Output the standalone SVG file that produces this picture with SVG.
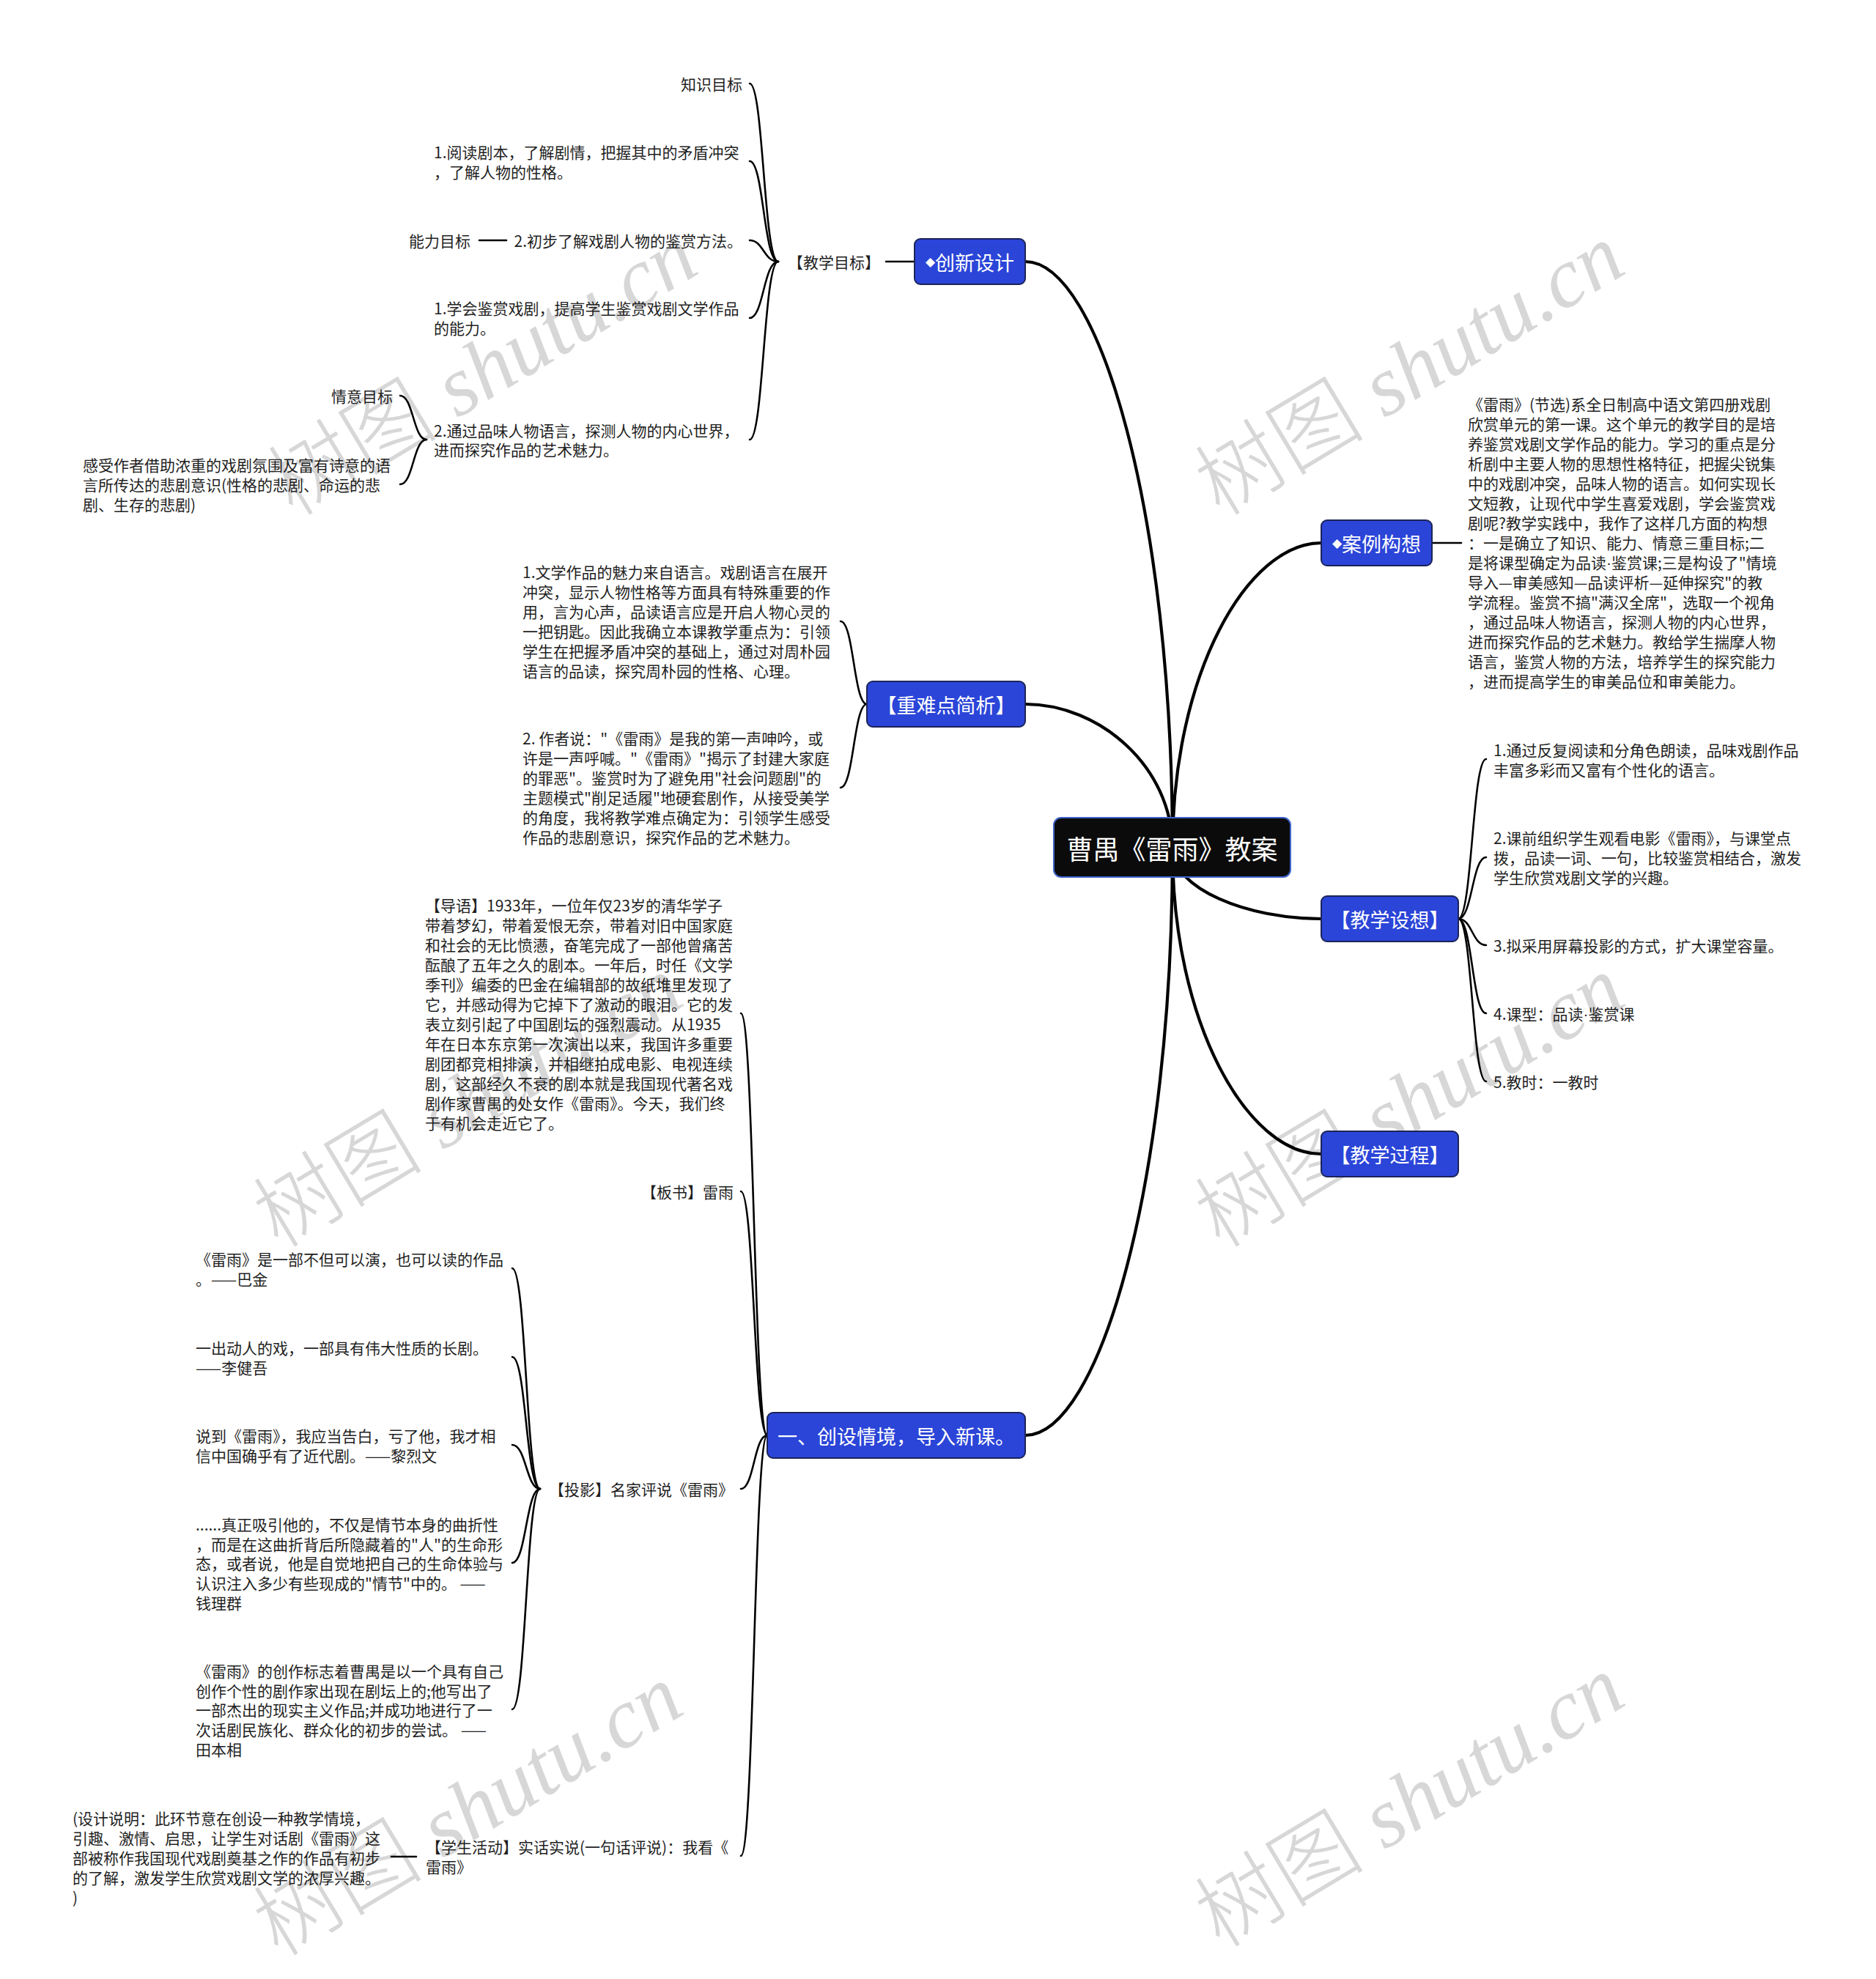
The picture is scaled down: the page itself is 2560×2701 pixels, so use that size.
<svg xmlns="http://www.w3.org/2000/svg" width="2560" height="2701" viewBox="0 0 2560 2701">
<style>
text { font-family: "Noto Sans CJK SC", "Noto Sans", sans-serif; }
.leaf { font-size: 21px; fill: #1f1f1f; dominant-baseline: central; }
.main { font-size: 27px; fill: #ffffff; dominant-baseline: central; text-anchor: middle; }
.root { font-size: 36px; fill: #ffffff; dominant-baseline: central; text-anchor: middle; }
.box { fill: #2b45d8; stroke: #1c2458; stroke-width: 2; }
.rootbox { fill: #0b0b0b; stroke: #3f63c9; stroke-width: 2; }
.conn path { fill: none; stroke: #000; stroke-width: 2.6; stroke-linecap: round; }
.conn path.m { stroke-width: 4.2; }
.wm { font-family: "Liberation Serif", "Noto Sans CJK SC", serif; font-size: 116px; font-weight: 300; fill: #d7d7d7; }
.end { text-anchor: end; }
.dia { font-family: "DejaVu Sans", sans-serif; font-size: 17px; }
.dot { font-family: "Liberation Sans", sans-serif; }
</style>

<g id="watermarks">
<text class="wm" transform="translate(400,706) rotate(-31)">树图 <tspan font-style="italic">shutu.cn</tspan></text>
<text class="wm" transform="translate(1665,706) rotate(-31)">树图 <tspan font-style="italic">shutu.cn</tspan></text>
<text class="wm" transform="translate(380,1705) rotate(-31)">树图 <tspan font-style="italic">shutu.cn</tspan></text>
<text class="wm" transform="translate(1665,1705) rotate(-31)">树图 <tspan font-style="italic">shutu.cn</tspan></text>
<text class="wm" transform="translate(380,2672) rotate(-31)">树图 <tspan font-style="italic">shutu.cn</tspan></text>
<text class="wm" transform="translate(1665,2660) rotate(-31)">树图 <tspan font-style="italic">shutu.cn</tspan></text>
</g>

<g id="connectors" class="conn">
<path class="m" d="M1600 1158 C1600 700 1500 357 1399 357"/>
<path class="m" d="M1600 1158 C1600 1046 1500 961 1399 961"/>
<path class="m" d="M1600 1158 C1600 1615 1500 1959 1399 1959"/>
<path class="m" d="M1600 1158 C1600 920 1702 741 1803 741"/>
<path class="m" d="M1600 1158 C1600 1213 1702 1254 1803 1254"/>
<path class="m" d="M1600 1158 C1600 1396 1702 1575 1803 1575"/>
<path d="M1247 357 H1209"/>
<path d="M1062 357 C1042 357 1042 114 1023 114"/>
<path d="M1062 357 C1042 357 1042 220 1023 220"/>
<path d="M1062 357 C1042 357 1042 328 1023 328"/>
<path d="M1062 357 C1042 357 1042 434 1023 434"/>
<path d="M1062 357 C1042 357 1042 600 1023 600"/>
<path d="M691 328 H654"/>
<path d="M582 600 C564 600 564 540 546 540"/>
<path d="M582 600 C564 600 564 661 546 661"/>
<path d="M1954 741 H1994"/>
<path d="M1183 961 C1165 961 1165 848 1147 848"/>
<path d="M1183 961 C1165 961 1165 1075 1147 1075"/>
<path d="M1990 1254 C2009 1254 2009 1036 2028 1036"/>
<path d="M1990 1254 C2009 1254 2009 1170 2028 1170"/>
<path d="M1990 1254 C2009 1254 2009 1290 2028 1290"/>
<path d="M1990 1254 C2009 1254 2009 1383 2028 1383"/>
<path d="M1990 1254 C2009 1254 2009 1476 2028 1476"/>
<path d="M1047 1959 C1029 1959 1029 1383 1011 1383"/>
<path d="M1047 1959 C1029 1959 1029 1626 1011 1626"/>
<path d="M1047 1959 C1029 1959 1029 2032 1011 2032"/>
<path d="M1047 1959 C1029 1959 1029 2533 1011 2533"/>
<path d="M737 2032 C718 2032 718 1731 699 1731"/>
<path d="M737 2032 C718 2032 718 1852 699 1852"/>
<path d="M737 2032 C718 2032 718 1972 699 1972"/>
<path d="M737 2032 C718 2032 718 2133 699 2133"/>
<path d="M737 2032 C718 2032 718 2333 699 2333"/>
<path d="M568 2534 H534"/>
</g>

<g id="root">
<rect class="rootbox" x="1438" y="1116" width="323" height="81" rx="10"/>
<text class="root" x="1599.5" y="1157">曹禺《雷雨》教案</text>
</g>

<g id="n-chuangxin">
<rect class="box" x="1248" y="326" width="151" height="62" rx="8"/>
<text class="main" x="1323.5" y="357"><tspan class="dia">◆</tspan>创新设计</text>
</g>
<g id="n-anli">
<rect class="box" x="1803" y="710" width="151" height="62" rx="8"/>
<text class="main" x="1878.5" y="741"><tspan class="dia">◆</tspan>案例构想</text>
</g>
<g id="n-zhongnandian">
<rect class="box" x="1183" y="930" width="216" height="62" rx="8"/>
<text class="main" x="1291" y="961">【重难点简析】</text>
</g>
<g id="n-shexiang">
<rect class="box" x="1803" y="1223" width="187" height="62" rx="8"/>
<text class="main" x="1896.5" y="1254">【教学设想】</text>
</g>
<g id="n-guocheng">
<rect class="box" x="1803" y="1544" width="187" height="62" rx="8"/>
<text class="main" x="1896.5" y="1575">【教学过程】</text>
</g>
<g id="n-chuangshe">
<rect class="box" x="1047" y="1928" width="352" height="62" rx="8"/>
<text class="main" x="1223" y="1959">一、创设情境，导入新课。</text>
</g>

<g id="n-mubiao"><text class="leaf" x="1138" y="357" text-anchor="middle">【教学目标】</text></g>
<g id="n-zhishi"><text class="leaf end" x="1013" y="114">知识目标</text></g>
<g id="n-yuedu"><text class="leaf"><tspan x="592" y="207">1.阅读剧本，了解剧情，把握其中的矛盾冲突</tspan><tspan x="592" y="234">，了解人物的性格。</tspan></text></g>
<g id="n-chubu"><text class="leaf end" x="1013" y="328">2.初步了解戏剧人物的鉴赏方法。</text></g>
<g id="n-nengli"><text class="leaf" x="558" y="328">能力目标</text></g>
<g id="n-xuehui"><text class="leaf"><tspan x="592" y="420">1.学会鉴赏戏剧，提高学生鉴赏戏剧文学作品</tspan><tspan x="592" y="447">的能力。</tspan></text></g>
<g id="n-tongguo"><text class="leaf"><tspan x="592" y="587">2.通过品味人物语言，探测人物的内心世界，</tspan><tspan x="592" y="613">进而探究作品的艺术魅力。</tspan></text></g>
<g id="n-qingyi"><text class="leaf end" x="536" y="540">情意目标</text></g>
<g id="n-ganshou"><text class="leaf"><tspan x="113" y="634">感受作者借助浓重的戏剧氛围及富有诗意的语</tspan><tspan x="113" y="661">言所传达的悲剧意识(性格的悲剧、命运的悲</tspan><tspan x="113" y="688">剧、生存的悲剧)</tspan></text></g>

<g id="n-anli-text"><text class="leaf">
<tspan x="2003" y="551">《雷雨》(节选)系全日制高中语文第四册戏剧</tspan>
<tspan x="2003" y="578">欣赏单元的第一课。这个单元的教学目的是培</tspan>
<tspan x="2003" y="605">养鉴赏戏剧文学作品的能力。学习的重点是分</tspan>
<tspan x="2003" y="632">析剧中主要人物的思想性格特征，把握尖锐集</tspan>
<tspan x="2003" y="659">中的戏剧冲突，品味人物的语言。如何实现长</tspan>
<tspan x="2003" y="686">文短教，让现代中学生喜爱戏剧，学会鉴赏戏</tspan>
<tspan x="2003" y="713">剧呢?教学实践中，我作了这样几方面的构想</tspan>
<tspan x="2003" y="740">：一是确立了知识、能力、情意三重目标;二</tspan>
<tspan x="2003" y="767">是将课型确定为品读<tspan class="dot">·</tspan>鉴赏课;三是构设了"情境</tspan>
<tspan x="2003" y="794">导入—审美感知—品读评析—延伸探究"的教</tspan>
<tspan x="2003" y="821">学流程。鉴赏不搞"满汉全席"，选取一个视角</tspan>
<tspan x="2003" y="848">，通过品味人物语言，探测人物的内心世界，</tspan>
<tspan x="2003" y="875">进而探究作品的艺术魅力。教给学生揣摩人物</tspan>
<tspan x="2003" y="902">语言，鉴赏人物的方法，培养学生的探究能力</tspan>
<tspan x="2003" y="929">，进而提高学生的审美品位和审美能力。</tspan>
</text></g>

<g id="n-zhongdian"><text class="leaf">
<tspan x="713" y="780">1.文学作品的魅力来自语言。戏剧语言在展开</tspan>
<tspan x="713" y="807">冲突，显示人物性格等方面具有特殊重要的作</tspan>
<tspan x="713" y="834">用，言为心声，品读语言应是开启人物心灵的</tspan>
<tspan x="713" y="861">一把钥匙。因此我确立本课教学重点为：引领</tspan>
<tspan x="713" y="888">学生在把握矛盾冲突的基础上，通过对周朴园</tspan>
<tspan x="713" y="915">语言的品读，探究周朴园的性格、心理。</tspan>
</text></g>
<g id="n-nandian"><text class="leaf">
<tspan x="713" y="1007">2. 作者说："《雷雨》是我的第一声呻吟，或</tspan>
<tspan x="713" y="1034">许是一声呼喊。"《雷雨》"揭示了封建大家庭</tspan>
<tspan x="713" y="1061">的罪恶"。鉴赏时为了避免用"社会问题剧"的</tspan>
<tspan x="713" y="1088">主题模式"削足适履"地硬套剧作，从接受美学</tspan>
<tspan x="713" y="1115">的角度，我将教学难点确定为：引领学生感受</tspan>
<tspan x="713" y="1142">作品的悲剧意识，探究作品的艺术魅力。</tspan>
</text></g>

<g id="n-sx1"><text class="leaf"><tspan x="2038" y="1023">1.通过反复阅读和分角色朗读，品味戏剧作品</tspan><tspan x="2038" y="1050">丰富多彩而又富有个性化的语言。</tspan></text></g>
<g id="n-sx2"><text class="leaf"><tspan x="2038" y="1143">2.课前组织学生观看电影《雷雨》，与课堂点</tspan><tspan x="2038" y="1170">拨，品读一词、一句，比较鉴赏相结合，激发</tspan><tspan x="2038" y="1197">学生欣赏戏剧文学的兴趣。</tspan></text></g>
<g id="n-sx3"><text class="leaf" x="2038" y="1290">3.拟采用屏幕投影的方式，扩大课堂容量。</text></g>
<g id="n-sx4"><text class="leaf" x="2038" y="1383">4.课型：品读<tspan class="dot">·</tspan>鉴赏课</text></g>
<g id="n-sx5"><text class="leaf" x="2038" y="1476">5.教时：一教时</text></g>

<g id="n-daoyu"><text class="leaf">
<tspan x="580" y="1235">【导语】1933年，一位年仅23岁的清华学子</tspan>
<tspan x="580" y="1262">带着梦幻，带着爱恨无奈，带着对旧中国家庭</tspan>
<tspan x="580" y="1289">和社会的无比愤懑，奋笔完成了一部他曾痛苦</tspan>
<tspan x="580" y="1316">酝酿了五年之久的剧本。一年后，时任《文学</tspan>
<tspan x="580" y="1343">季刊》编委的巴金在编辑部的故纸堆里发现了</tspan>
<tspan x="580" y="1370">它，并感动得为它掉下了激动的眼泪。它的发</tspan>
<tspan x="580" y="1397">表立刻引起了中国剧坛的强烈震动。从1935</tspan>
<tspan x="580" y="1424">年在日本东京第一次演出以来，我国许多重要</tspan>
<tspan x="580" y="1451">剧团都竞相排演，并相继拍成电影、电视连续</tspan>
<tspan x="580" y="1478">剧，这部经久不衰的剧本就是我国现代著名戏</tspan>
<tspan x="580" y="1505">剧作家曹禺的处女作《雷雨》。今天，我们终</tspan>
<tspan x="580" y="1532">于有机会走近它了。</tspan>
</text></g>
<g id="n-banshu"><text class="leaf end" x="1001" y="1626">【板书】雷雨</text></g>
<g id="n-touying"><text class="leaf end" x="1001" y="2032">【投影】名家评说《雷雨》</text></g>

<g id="n-q1"><text class="leaf"><tspan x="267" y="1718">《雷雨》是一部不但可以演，也可以读的作品</tspan><tspan x="267" y="1745">。——巴金</tspan></text></g>
<g id="n-q2"><text class="leaf"><tspan x="267" y="1839">一出动人的戏，一部具有伟大性质的长剧。</tspan><tspan x="267" y="1866">——李健吾</tspan></text></g>
<g id="n-q3"><text class="leaf"><tspan x="267" y="1959">说到《雷雨》，我应当告白，亏了他，我才相</tspan><tspan x="267" y="1986">信中国确乎有了近代剧。——黎烈文</tspan></text></g>
<g id="n-q4"><text class="leaf">
<tspan x="267" y="2080">......真正吸引他的，不仅是情节本身的曲折性</tspan>
<tspan x="267" y="2107">，而是在这曲折背后所隐藏着的"人"的生命形</tspan>
<tspan x="267" y="2133">态，或者说，他是自觉地把自己的生命体验与</tspan>
<tspan x="267" y="2160">认识注入多少有些现成的"情节"中的。 ——</tspan>
<tspan x="267" y="2187">钱理群</tspan>
</text></g>
<g id="n-q5"><text class="leaf">
<tspan x="267" y="2280">《雷雨》的创作标志着曹禺是以一个具有自己</tspan>
<tspan x="267" y="2307">创作个性的剧作家出现在剧坛上的;他写出了</tspan>
<tspan x="267" y="2333">一部杰出的现实主义作品;并成功地进行了一</tspan>
<tspan x="267" y="2360">次话剧民族化、群众化的初步的尝试。 ——</tspan>
<tspan x="267" y="2387">田本相</tspan>
</text></g>

<g id="n-huodong"><text class="leaf"><tspan x="581" y="2520">【学生活动】实话实说(一句话评说)：我看《</tspan><tspan x="581" y="2547">雷雨》</tspan></text></g>
<g id="n-shuoming"><text class="leaf">
<tspan x="99" y="2481">(设计说明：此环节意在创设一种教学情境，</tspan>
<tspan x="99" y="2508">引趣、激情、启思，让学生对话剧《雷雨》这</tspan>
<tspan x="99" y="2535">部被称作我国现代戏剧奠基之作的作品有初步</tspan>
<tspan x="99" y="2562">的了解，激发学生欣赏戏剧文学的浓厚兴趣。</tspan>
<tspan x="99" y="2589">)</tspan>
</text></g>
</svg>
